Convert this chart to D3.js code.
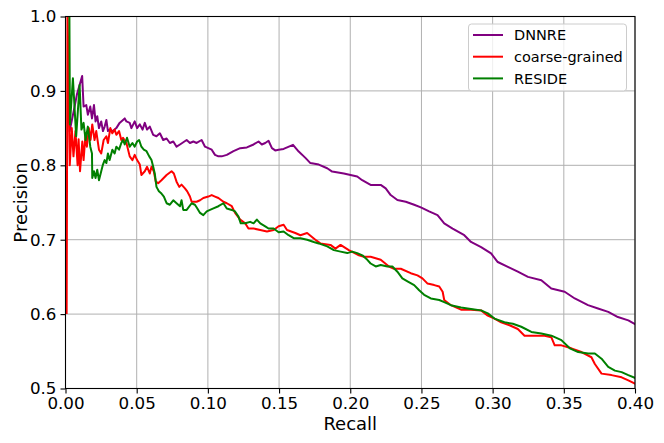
<!DOCTYPE html>
<html>
<head>
<meta charset="utf-8">
<script src="https://cdn.jsdelivr.net/npm/d3@7"></script>
<style>
  body { margin: 0; background: #fff; }
  text { font-family: "DejaVu Sans", sans-serif; }
</style>
</head>
<body>
<div id="container"></div>
<script>
/* CONSTANTS AND GLOBALS */
const width = 664,
  height = 443,
  margin = {top: 16.5, left: 65.5, bottom: 54.5, right: 29};

/* DATA: [recall, precision] */
const seriesNames = ["DNNRE", "coarse-grained", "RESIDE"];
const seriesColors = ["#800080", "#ff0000", "#008000"];
const xTicks = [0, 0.05, 0.10, 0.15, 0.20, 0.25, 0.30, 0.35, 0.40];
const yTicks = [0.5, 0.6, 0.7, 0.8, 0.9, 1.0];

const dnnre = [
  [0.0028,0.845],[0.0060,0.875],[0.0080,0.895],[0.0117,0.920],[0.0127,0.879],[0.0146,0.881],
  [0.0157,0.868],[0.0174,0.879],[0.0186,0.863],[0.0200,0.881],[0.0211,0.859],[0.0223,0.866],
  [0.0235,0.850],[0.0251,0.859],[0.0263,0.846],[0.0275,0.852],[0.0287,0.861],[0.0298,0.846],
  [0.0310,0.848],[0.0333,0.846],[0.0357,0.850],[0.0380,0.857],[0.0416,0.863],[0.0428,0.859],
  [0.0451,0.857],[0.0463,0.850],[0.0486,0.859],[0.0503,0.850],[0.0522,0.855],[0.0541,0.848],
  [0.0557,0.857],[0.0573,0.848],[0.0592,0.852],[0.0616,0.841],[0.0639,0.839],[0.0663,0.843],
  [0.0686,0.834],[0.0710,0.836],[0.0733,0.830],[0.0757,0.832],[0.0780,0.825],[0.0804,0.828],
  [0.0851,0.834],[0.0874,0.830],[0.0898,0.832],[0.0921,0.830],[0.0956,0.834],[0.0980,0.825],
  [0.1003,0.823],[0.1027,0.821],[0.1050,0.814],[0.1074,0.812],[0.1097,0.812],[0.1133,0.814],
  [0.1180,0.819],[0.1227,0.823],[0.1274,0.824],[0.1321,0.828],[0.1356,0.832],[0.1379,0.828],
  [0.1403,0.830],[0.1426,0.833],[0.1450,0.823],[0.1473,0.820],[0.1497,0.821],[0.1532,0.822],
  [0.1598,0.8275],[0.1638,0.8185],[0.1685,0.810],[0.1720,0.803],[0.1779,0.801],[0.1838,0.796],
  [0.1873,0.7916],[0.1955,0.789],[0.2002,0.787],[0.2049,0.785],[0.2084,0.780],[0.2143,0.7736],
  [0.2214,0.7736],[0.2249,0.769],[0.2284,0.760],[0.2331,0.7534],[0.2390,0.751],[0.2449,0.747],
  [0.2496,0.7435],[0.2554,0.738],[0.2613,0.733],[0.2660,0.722],[0.2719,0.715],[0.2801,0.706],
  [0.2848,0.697],[0.2919,0.690],[0.2989,0.6815],[0.3036,0.670],[0.3107,0.6635],[0.3177,0.657],
  [0.3248,0.650],[0.3342,0.6456],[0.3412,0.6344],[0.3506,0.630],[0.3577,0.621],[0.3670,0.612],
  [0.3740,0.6075],[0.3812,0.603],[0.3880,0.596],[0.3953,0.5916],[0.4004,0.586]
];

const coarse = [
  [0.0008,0.60],[0.0014,1.02],[0.0030,0.80],[0.0044,0.85],[0.0056,0.812],[0.0070,0.846],
  [0.0085,0.800],[0.0092,0.835],[0.0102,0.792],[0.0118,0.832],[0.0127,0.807],[0.0141,0.843],
  [0.0150,0.825],[0.0164,0.850],[0.0176,0.834],[0.0188,0.855],[0.0204,0.834],[0.0216,0.846],
  [0.0235,0.821],[0.0251,0.816],[0.0268,0.834],[0.0287,0.839],[0.0298,0.830],[0.0315,0.850],
  [0.0329,0.843],[0.0345,0.848],[0.0357,0.841],[0.0376,0.846],[0.0392,0.834],[0.0404,0.837],
  [0.0428,0.830],[0.0451,0.812],[0.0470,0.807],[0.0486,0.814],[0.0503,0.807],[0.0522,0.801],
  [0.0533,0.787],[0.0557,0.792],[0.0573,0.798],[0.0592,0.789],[0.0604,0.798],[0.0620,0.792],
  [0.0634,0.778],[0.0651,0.776],[0.0674,0.780],[0.0710,0.787],[0.0745,0.792],[0.0761,0.789],
  [0.0780,0.778],[0.0799,0.771],[0.0815,0.774],[0.0839,0.769],[0.0855,0.765],[0.0874,0.758],
  [0.0886,0.751],[0.0921,0.751],[0.0945,0.753],[0.0968,0.756],[0.1003,0.758],[0.1027,0.760],
  [0.1050,0.758],[0.1074,0.756],[0.1109,0.751],[0.1133,0.749],[0.1168,0.745],[0.1191,0.736],
  [0.1227,0.727],[0.1262,0.722],[0.1285,0.715],[0.1321,0.715],[0.1368,0.713],[0.1415,0.711],
  [0.1462,0.713],[0.1497,0.718],[0.1532,0.720],[0.1556,0.713],[0.1614,0.709],[0.1650,0.706],
  [0.1697,0.709],[0.1755,0.700],[0.1790,0.695],[0.1861,0.693],[0.1896,0.688],[0.1932,0.693],
  [0.1990,0.686],[0.2061,0.679],[0.2096,0.677],[0.2143,0.677],[0.2214,0.673],[0.2272,0.664],
  [0.2308,0.661],[0.2355,0.661],[0.2425,0.655],[0.2472,0.652],[0.2507,0.648],[0.2543,0.641],
  [0.2590,0.639],[0.2625,0.637],[0.2649,0.630],[0.2660,0.619],[0.2707,0.612],[0.2778,0.606],
  [0.2848,0.606],[0.2919,0.605],[0.2966,0.598],[0.3013,0.594],[0.3060,0.589],[0.3119,0.585],
  [0.3177,0.580],[0.3224,0.571],[0.3295,0.571],[0.3365,0.571],[0.3412,0.569],[0.3436,0.558],
  [0.3483,0.558],[0.3553,0.554],[0.3624,0.549],[0.3694,0.542],[0.3718,0.533],[0.3765,0.520],
  [0.3835,0.518],[0.3906,0.515],[0.3953,0.511],[0.4004,0.506]
];

const reside = [
  [0.0027,1.02],[0.0031,0.855],[0.0052,0.917],[0.0075,0.839],[0.0099,0.908],[0.0112,0.848],
  [0.0127,0.857],[0.0141,0.834],[0.0157,0.852],[0.0174,0.825],[0.0186,0.816],[0.0188,0.783],
  [0.0200,0.792],[0.0211,0.783],[0.0223,0.794],[0.0235,0.780],[0.0251,0.792],[0.0263,0.801],
  [0.0275,0.807],[0.0287,0.803],[0.0298,0.816],[0.0310,0.807],[0.0329,0.821],[0.0345,0.816],
  [0.0357,0.825],[0.0376,0.821],[0.0392,0.830],[0.0404,0.834],[0.0416,0.828],[0.0432,0.837],
  [0.0451,0.825],[0.0470,0.830],[0.0486,0.825],[0.0503,0.832],[0.0517,0.834],[0.0533,0.825],
  [0.0550,0.821],[0.0569,0.819],[0.0588,0.812],[0.0604,0.807],[0.0616,0.798],[0.0627,0.789],
  [0.0639,0.771],[0.0656,0.765],[0.0674,0.762],[0.0691,0.758],[0.0710,0.749],[0.0733,0.747],
  [0.0757,0.753],[0.0780,0.749],[0.0804,0.745],[0.0815,0.753],[0.0827,0.740],[0.0851,0.740],
  [0.0886,0.749],[0.0909,0.747],[0.0926,0.742],[0.0945,0.736],[0.0968,0.733],[0.0992,0.738],
  [0.1015,0.740],[0.1039,0.742],[0.1074,0.745],[0.1109,0.749],[0.1133,0.742],[0.1168,0.740],
  [0.1191,0.738],[0.1215,0.731],[0.1231,0.722],[0.1262,0.722],[0.1297,0.724],[0.1321,0.722],
  [0.1344,0.727],[0.1368,0.722],[0.1403,0.718],[0.1426,0.715],[0.1462,0.715],[0.1497,0.710],
  [0.1532,0.711],[0.1567,0.706],[0.1603,0.702],[0.1650,0.702],[0.1697,0.700],[0.1744,0.697],
  [0.1779,0.695],[0.1838,0.691],[0.1885,0.686],[0.1932,0.684],[0.1979,0.682],[0.2014,0.684],
  [0.2049,0.682],[0.2085,0.679],[0.2120,0.673],[0.2143,0.668],[0.2179,0.664],[0.2214,0.666],
  [0.2261,0.664],[0.2296,0.664],[0.2331,0.657],[0.2366,0.648],[0.2402,0.644],[0.2449,0.639],
  [0.2484,0.632],[0.2519,0.626],[0.2566,0.621],[0.2625,0.619],[0.2660,0.616],[0.2707,0.612],
  [0.2778,0.609],[0.2848,0.607],[0.2919,0.605],[0.2966,0.601],[0.3013,0.594],[0.3083,0.589],
  [0.3142,0.587],[0.3201,0.583],[0.3272,0.576],[0.3342,0.574],[0.3413,0.571],[0.3483,0.565],
  [0.3542,0.554],[0.3601,0.549],[0.3671,0.547],[0.3718,0.547],[0.3765,0.540],[0.3812,0.529],
  [0.3859,0.524],[0.3906,0.522],[0.3953,0.518],[0.4004,0.514]
];

const allSeries = [dnnre, coarse, reside];

// SCALES
const xScale = d3.scaleLinear()
  .domain([0, 0.4])
  .range([margin.left, width - margin.right]);

const yScale = d3.scaleLinear()
  .domain([0.5, 1.0])
  .range([height - margin.bottom, margin.top]);

// CREATE SVG ELEMENT
const svg = d3.select("#container")
  .append("svg")
  .attr("width", width)
  .attr("height", height);

svg.append("clipPath")
  .attr("id", "plot-clip")
  .append("rect")
  .attr("x", margin.left)
  .attr("y", margin.top)
  .attr("width", width - margin.left - margin.right)
  .attr("height", height - margin.top - margin.bottom);

// GRID
svg.append("g")
  .selectAll("line")
  .data(xTicks)
  .join("line")
  .attr("x1", d => xScale(d)).attr("x2", d => xScale(d))
  .attr("y1", margin.top).attr("y2", height - margin.bottom)
  .attr("stroke", "#b0b0b0").attr("stroke-width", 1);

svg.append("g")
  .selectAll("line")
  .data(yTicks)
  .join("line")
  .attr("x1", margin.left).attr("x2", width - margin.right)
  .attr("y1", d => yScale(d)).attr("y2", d => yScale(d))
  .attr("stroke", "#b0b0b0").attr("stroke-width", 1);

// LINE GENERATOR FUNCTION
const lineGen = d3.line()
  .x(d => xScale(d[0]))
  .y(d => yScale(d[1]));

// DRAW LINES
svg.append("g")
  .attr("clip-path", "url(#plot-clip)")
  .selectAll(".line")
  .data(allSeries)
  .join("path")
  .attr("class", "line")
  .attr("d", d => lineGen(d))
  .attr("stroke", (d, i) => seriesColors[i])
  .attr("stroke-width", 2)
  .attr("stroke-linejoin", "round")
  .attr("fill", "none");

// BUILD AND CALL AXES
const xAxis = d3.axisBottom(xScale)
  .tickValues(xTicks)
  .tickFormat(d3.format(".2f"))
  .tickSize(5)
  .tickPadding(4);

const yAxis = d3.axisLeft(yScale)
  .tickValues(yTicks)
  .tickFormat(d3.format(".1f"))
  .tickSize(5)
  .tickPadding(4);

const xg = svg.append("g")
  .attr("transform", `translate(0,${height - margin.bottom})`)
  .call(xAxis);

const yg = svg.append("g")
  .attr("transform", `translate(${margin.left},0)`)
  .call(yAxis);

[xg, yg].forEach(g => {
  g.select(".domain").remove();
  g.selectAll(".tick line").attr("stroke", "#000").attr("stroke-width", 1.1);
  g.selectAll(".tick text")
    .attr("fill", "#000")
    .style("font-family", "DejaVu Sans")
    .style("font-size", "16.7px");
});

// frame
svg.append("rect")
  .attr("x", margin.left)
  .attr("y", margin.top)
  .attr("width", width - margin.left - margin.right)
  .attr("height", height - margin.top - margin.bottom)
  .attr("fill", "none")
  .attr("stroke", "#000")
  .attr("stroke-width", 1.1);

// axis labels
svg.append("text")
  .attr("x", (margin.left + width - margin.right) / 2)
  .attr("y", 430)
  .attr("text-anchor", "middle")
  .style("font-size", "18px")
  .text("Recall");

svg.append("text")
  .attr("transform", `translate(26.5,${(margin.top + height - margin.bottom) / 2}) rotate(-90)`)
  .attr("text-anchor", "middle")
  .style("font-size", "18px")
  .text("Precision");

// LEGEND
const legend = svg.append("g");

legend.append("rect")
  .attr("x", 468.5)
  .attr("y", 24)
  .attr("width", 158)
  .attr("height", 67)
  .attr("rx", 3)
  .attr("fill", "#fff")
  .attr("fill-opacity", 0.8)
  .attr("stroke", "#cccccc")
  .attr("stroke-width", 1);

const rows = legend.selectAll(".row")
  .data(seriesNames)
  .join("g")
  .attr("class", "row")
  .attr("transform", (d, i) => `translate(0,${35 + i * 21.7})`);

rows.append("line")
  .attr("x1", 473).attr("x2", 503)
  .attr("stroke", (d, i) => seriesColors[i])
  .attr("stroke-width", 2);

rows.append("text")
  .attr("x", 514)
  .attr("dy", "0.36em")
  .style("font-size", "14.5px")
  .text(d => d);
</script>
</body>
</html>
